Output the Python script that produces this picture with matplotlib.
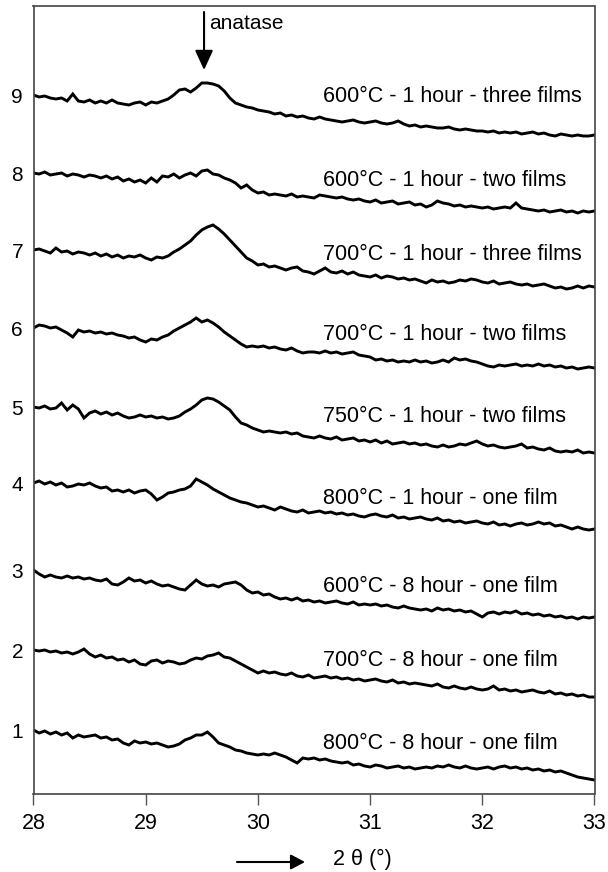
import numpy as np
import matplotlib
matplotlib.use('Agg')
import matplotlib.pyplot as plt

plt.rcParams['font.family'] = ['Liberation Sans', 'DejaVu Sans']

# 2-theta grid (degrees), 0.05 deg steps
two_theta = np.round(np.arange(28.0, 33.0001, 0.05), 2)

# intensities (a.u., stacked as in the original figure)
int_800_8h_1f = [
    70, 67, 69, 66, 68, 65, 67, 62, 65, 63,
    64, 65, 62, 63, 60, 61, 57, 55, 59, 57,
    58, 56, 57, 55, 53, 54, 56, 60, 62, 65,
    65, 68, 63, 57, 55, 53, 50, 49, 47, 46,
    45, 46, 45, 47, 45, 43, 40, 37, 42, 41,
    42, 40, 41, 39, 38, 37, 38, 35, 36, 34,
    33, 35, 34, 32, 33, 34, 32, 33, 31, 32,
    33, 32, 34, 33, 35, 33, 32, 34, 32, 31,
    32, 33, 31, 33, 34, 32, 33, 31, 32, 30,
    31, 29, 30, 28, 29, 27, 25, 23, 22, 21,
    20]
int_700_8h_1f = [
    150, 149, 150, 148, 149, 147, 148, 146, 148, 151,
    146, 143, 145, 142, 143, 140, 141, 138, 140, 136,
    135, 139, 140, 137, 139, 138, 136, 137, 140, 142,
    141, 144, 145, 147, 143, 142, 139, 136, 133, 130,
    127, 129, 127, 128, 126, 125, 127, 124, 123, 125,
    122, 123, 124, 122, 123, 121, 122, 120, 121, 119,
    120, 121, 119, 118, 120, 117, 118, 116, 117, 116,
    115, 114, 116, 113, 112, 114, 112, 111, 113, 111,
    110, 111, 114, 110, 111, 109, 110, 108, 109, 110,
    108, 107, 109, 106, 107, 105, 106, 104, 105, 103,
    103]
int_600_8h_1f = [
    230, 226, 223, 225, 223, 222, 224, 222, 223, 221,
    222, 220, 219, 221, 216, 215, 218, 222, 219, 220,
    217, 219, 216, 214, 215, 213, 211, 210, 215, 220,
    216, 214, 215, 213, 216, 217, 218, 215, 210, 207,
    208, 205, 206, 203, 201, 202, 200, 202, 199, 200,
    198, 199, 197, 198, 199, 197, 196, 198, 195, 196,
    195, 196, 194, 195, 193, 192, 194, 192, 191, 190,
    191, 189, 192, 190, 191, 189, 190, 188, 189, 186,
    183, 187, 188, 186, 188, 187, 189, 186, 187, 185,
    186, 184, 185, 183, 184, 182, 183, 181, 183, 182,
    183]
int_800_1h_1f = [
    317, 319, 316, 318, 315, 317, 313, 314, 316, 315,
    317, 314, 312, 313, 309, 310, 308, 310, 307, 309,
    310, 306, 300, 303, 307, 308, 310, 311, 314, 321,
    318, 315, 311, 308, 305, 302, 300, 298, 297, 295,
    293, 294, 292, 290, 293, 291, 289, 288, 290, 287,
    288, 289, 287, 288, 286, 287, 285, 286, 284, 283,
    285, 286, 284, 283, 285, 282, 283, 281, 282, 283,
    281, 280, 282, 279, 280, 278, 279, 277, 278, 279,
    277, 276, 278, 275, 276, 274, 276, 277, 275, 276,
    278, 276, 277, 274, 275, 273, 271, 273, 271, 270,
    271]
int_750_1h_2f = [
    393, 392, 394, 391, 392, 397, 390, 395, 391, 382,
    387, 389, 386, 388, 385, 387, 384, 382, 383, 385,
    383, 384, 382, 383, 381, 382, 384, 388, 391, 395,
    400, 402, 401, 398, 394, 390, 383, 377, 375, 372,
    370, 368, 369, 368, 367, 368, 366, 367, 364, 363,
    362, 364, 362, 361, 363, 360, 361, 362, 359, 360,
    358, 360, 357, 359, 356, 357, 358, 356, 357, 355,
    356, 354, 353, 355, 353, 354, 356, 355, 357, 359,
    356, 354, 355, 353, 352, 353, 354, 356, 352, 353,
    351, 350, 352, 349, 348, 349, 348, 350, 347, 348,
    347]
int_700_1h_2f = [
    472, 475, 474, 472, 473, 470, 467, 463, 470, 468,
    469, 467, 468, 466, 467, 465, 464, 462, 463, 460,
    458, 461, 460, 463, 465, 469, 472, 475, 478, 482,
    478, 480, 477, 473, 468, 464, 460, 456, 453, 454,
    453, 454, 452, 453, 451, 450, 452, 449, 447, 448,
    448, 447, 449, 447, 448, 446, 447, 448, 445, 444,
    443, 440, 441, 439, 440, 438, 439, 438, 440, 438,
    439, 437, 438, 440, 438, 442, 440, 441, 439, 438,
    436, 434, 433, 435, 434, 435, 436, 434, 435, 434,
    436, 434, 435, 433, 434, 432, 433, 431, 432, 433,
    432]
int_700_1h_3f = [
    550, 551, 549, 547, 552, 548, 549, 546, 548, 547,
    545, 547, 544, 546, 543, 545, 542, 544, 543, 545,
    542, 540, 543, 542, 544, 548, 551, 555, 559, 565,
    570, 573, 575, 571, 566, 560, 554, 548, 542, 539,
    535, 536, 533, 534, 532, 530, 532, 533, 529, 528,
    526, 529, 532, 528, 527, 529, 526, 528, 525, 524,
    523, 525, 522, 524, 523, 521, 522, 520, 521, 519,
    517, 520, 518, 519, 517, 518, 520, 519, 521, 520,
    518, 517, 519, 516, 517, 518, 516, 515, 516, 514,
    515, 516, 514, 512, 513, 511, 512, 514, 512, 514,
    513]
int_600_1h_2f = [
    627, 626, 628, 625, 626, 627, 624, 626, 625, 623,
    625, 624, 622, 624, 621, 623, 619, 621, 618, 620,
    617, 622, 618, 624, 623, 626, 622, 625, 627, 624,
    629, 630, 626, 625, 622, 620, 617, 612, 615, 610,
    607, 608, 605, 606, 605, 604, 606, 603, 604, 603,
    602, 605, 604, 603, 602, 603, 601, 600, 601, 599,
    598, 600, 597, 598, 599, 596, 597, 598, 595, 596,
    593, 595, 599, 597, 596, 594, 595, 593, 594, 593,
    592, 593, 591, 592, 593, 592, 597, 592, 591, 590,
    589, 590, 588, 589, 590, 588, 589, 587, 589, 588,
    589]
int_600_1h_3f = [
    705, 703, 704, 702, 701, 702, 699, 706, 699, 698,
    700, 697, 699, 697, 700, 697, 696, 695, 697, 698,
    695, 698, 697, 699, 701, 705, 710, 711, 708, 712,
    717, 717, 716, 714, 709, 702, 697, 695, 693, 692,
    690, 689, 688, 686, 687, 684, 685, 683, 684, 682,
    681, 683, 681, 680, 679, 678, 679, 680, 678, 677,
    678, 679, 677, 676, 677, 679, 676, 674, 675, 673,
    674, 673, 672, 672, 673, 671, 670, 671, 670, 669,
    669, 668, 669, 667, 668, 667, 668, 666, 667, 668,
    666, 667, 665, 664, 666, 665, 664, 665, 664, 664,
    665]

sample_labels = [
    '800°C - 8 hour - one film',
    '700°C - 8 hour - one film',
    '600°C - 8 hour - one film',
    '800°C - 1 hour - one film',
    '750°C - 1 hour - two films',
    '700°C - 1 hour - two films',
    '700°C - 1 hour - three films',
    '600°C - 1 hour - two films',
    '600°C - 1 hour - three films',
]
trace_numbers = ['1', '2', '3', '4', '5', '6', '7', '8', '9']
traces = [int_800_8h_1f, int_700_8h_1f, int_600_8h_1f, int_800_1h_1f,
          int_750_1h_2f, int_700_1h_2f, int_700_1h_3f, int_600_1h_2f,
          int_600_1h_3f]

# layout
label_y = [57, 140, 214, 302, 384, 466, 546, 620, 704]
label_x = 30.58
anatase_x = 29.52

fig = plt.figure(figsize=(6.08, 8.72), dpi=100)
ax = fig.add_axes([33.5 / 608, 1 - 794 / 872, 561 / 608, 788 / 872])

for tr in traces:
    ax.plot(two_theta, tr, color='black', lw=2.1, solid_joinstyle='miter')

for lab, yy in zip(sample_labels, label_y):
    ax.text(label_x, yy, lab, fontsize=15.5, ha='left', va='center')

ax.set_xlim(28, 33)
ax.set_ylim(6, 794)
ax.set_xticks([28, 29, 30, 31, 32, 33])
ax.set_xticklabels(['28', '29', '30', '31', '32', '33'])
ax.set_yticks([tr[0] for tr in traces])
ax.set_yticklabels(trace_numbers)
ax.tick_params(axis='x', direction='out', length=8, width=1, color='#555555',
               labelsize=15.5, pad=6)
ax.tick_params(axis='y', length=0, labelsize=15, pad=7.5)
for sp in ax.spines.values():
    sp.set_color('#444444')
    sp.set_linewidth(1.2)

# anatase marker
ax.annotate('', xy=(anatase_x, 730), xytext=(anatase_x, 788),
            arrowprops=dict(arrowstyle='-|>,head_length=12,head_width=5.5',
                            mutation_scale=1, lw=1.5, color='black',
                            shrinkA=0, shrinkB=0))
ax.text(anatase_x + 0.045, 777, 'anatase', fontsize=15, ha='left', va='center')

# x-axis label with arrow
ax.annotate('', xy=(305 / 608, 1 - 862 / 872), xytext=(237 / 608, 1 - 862 / 872),
            xycoords='figure fraction', textcoords='figure fraction',
            arrowprops=dict(arrowstyle='-|>,head_length=8.5,head_width=4.5',
                            mutation_scale=1, lw=1.5, color='black',
                            shrinkA=0, shrinkB=0))
fig.text(333 / 608, 1 - 859 / 872, '2 θ (°)', fontsize=15.5, ha='left', va='center')

fig.savefig('out.png', dpi=100)
plt.close(fig)
